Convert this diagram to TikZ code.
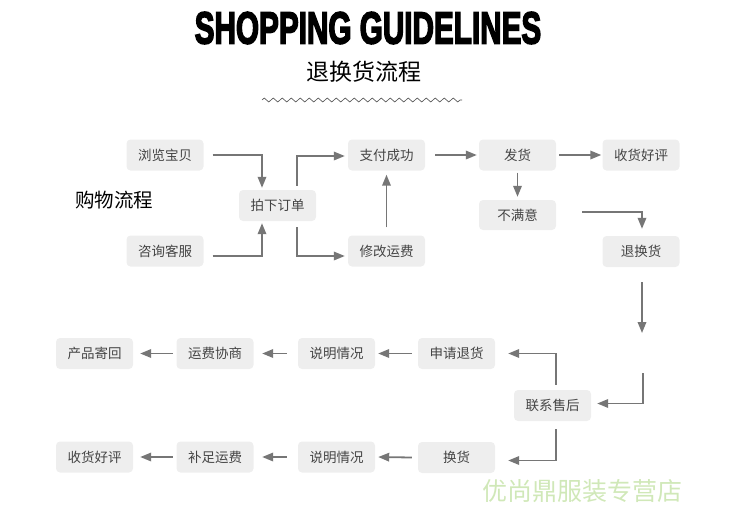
\documentclass[tikz,border=0pt]{standalone}
\usepackage{fontspec}
\usetikzlibrary{arrows.meta,decorations.pathmorphing}
\setmainfont{Liberation Sans}
\newfontfamily\cjk{Noto Sans CJK SC}
\newfontfamily\titlefont[FakeBold=4]{Liberation Sans Bold}
\definecolor{boxfill}{HTML}{EEEEEE}
\definecolor{arrgray}{HTML}{767676}
\definecolor{txtgray}{HTML}{444444}
\definecolor{wmgreen}{RGB}{208,232,184}
\tikzset{
  box/.style={fill=boxfill, rounded corners=4pt, minimum width=77pt, minimum height=31pt, inner sep=0pt, text=txtgray, font=\cjk\fontsize{13.5}{14}\selectfont},
  arr/.style={draw=arrgray, line width=1.8pt, -{Triangle[length=11pt,width=8.5pt]}},
  ln/.style={draw=arrgray, line width=1.8pt}
}
\begin{document}
\begin{tikzpicture}[x=1pt,y=-1pt]
\useasboundingbox (0,0) rectangle (748,517);
% titles
\node (title) at (368,28) {\titlefont\fontsize{45}{45}\selectfont\scalebox{0.66}[1]{SHOPPING GUIDELINES}};
\node (sub) at (364,72) {\cjk\fontsize{23}{23}\selectfont 退换货流程};
\coordinate (zz1) at (262,100);
\coordinate (zz2) at (462,100);
\draw[draw=black!70, line width=0.6pt, decorate, decoration={zigzag, segment length=9pt, amplitude=2pt}] (zz1) -- (zz2);
\node (label) at (114,200) {\cjk\fontsize{19.5}{20}\selectfont 购物流程};
% nodes
\node[box] (b1) at (165,155) {浏览宝贝};
\node[box] (b2) at (165,251) {咨询客服};
\node[box] (order) at (277.5,205.5) {拍下订单};
\node[box] (pay) at (386.5,155) {支付成功};
\node[box] (fee) at (386.5,251) {修改运费};
\node[box] (ship) at (517.5,155) {发货};
\node[box] (good1) at (641,155) {收货好评};
\node[box, minimum height=30pt] (unsat) at (517.5,215) {不满意};
\node[box] (ret) at (641,251.5) {退换货};
\node[box] (apply) at (456.5,353.5) {申请退货};
\node[box] (contact) at (552.5,405.5) {联系售后};
\node[box] (exch) at (456.5,457.5) {换货};
\node[box] (r1) at (336.5,353.5) {说明情况};
\node[box] (r2) at (215,353.5) {运费协商};
\node[box] (r3) at (94.5,353.5) {产品寄回};
\node[box] (e1) at (336.5,457) {说明情况};
\node[box] (e2) at (215,457) {补足运费};
\node[box] (e3) at (94.5,457) {收货好评};
% connectors
\draw[arr] ([xshift=9pt]b1.east) -| ([xshift=-15.5pt,yshift=2pt]order.north);
\draw[arr] ([xshift=9pt,yshift=-5pt]b2.east) -| ([xshift=-15.5pt,yshift=-2pt]order.south);
\draw[arr] ([xshift=19.5pt,yshift=4pt]order.north) |- ([xshift=-3pt,yshift=-1pt]pay.west);
\draw[arr] ([xshift=19.5pt,yshift=-6pt]order.south) |- ([xshift=-3pt,yshift=-5pt]fee.west);
\draw[arr] ([yshift=8pt]fee.north) -- ([yshift=-4pt]pay.south);
\draw[arr] ([xshift=10pt]pay.east) -- ([xshift=-2pt]ship.west);
\draw[arr] ([xshift=3pt]ship.east) -- ([xshift=-1pt]good1.west);
\draw[arr] ([yshift=-2pt]ship.south) -- ([yshift=3pt]unsat.north);
\draw[arr] ([xshift=26pt,yshift=3pt]unsat.east) -| ([xshift=1pt,yshift=7pt]ret.north);
\coordinate (mid1) at (642,333);
\coordinate (mid2) at (643,373);
\draw[arr] ([xshift=1pt,yshift=-15pt]ret.south) -- (mid1);
\draw[arr] (mid2) |- ([xshift=6pt,yshift=2pt]contact.east);
\draw[arr] ([xshift=3.5pt,yshift=5pt]contact.north) |- ([xshift=13pt]apply.east);
\draw[arr] ([xshift=3.5pt,yshift=-8pt]contact.south) |- ([xshift=13pt,yshift=-3pt]exch.east);
\draw[arr] ([xshift=-6pt]apply.west) -- ([xshift=3pt]r1.east);
\draw[arr] ([xshift=-11pt]r1.west) -- ([xshift=8.5pt]r2.east);
\draw[arr] ([xshift=-3.5pt]r2.west) -- ([xshift=7pt]r3.east);
\draw[arr] ([xshift=-6pt]exch.west) -- ([xshift=3pt]e1.east);
\draw[arr] ([xshift=-11pt]e1.west) -- ([xshift=8.5pt]e2.east);
\draw[arr] ([xshift=-3.5pt]e2.west) -- ([xshift=7pt]e3.east);
% watermark
\node[text=wmgreen] (wm) at (582,491) {\cjk\fontsize{25}{25}\selectfont 优尚鼎服装专营店};
\end{tikzpicture}
\end{document}
